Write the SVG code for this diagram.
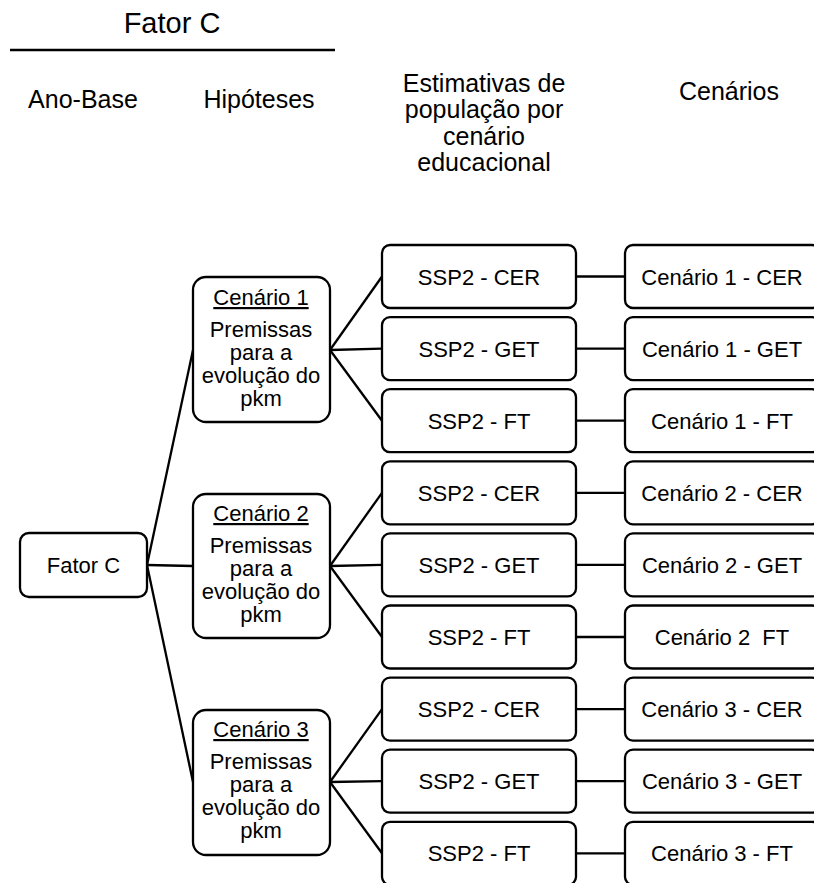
<svg xmlns="http://www.w3.org/2000/svg" width="814" height="883" viewBox="0 0 814 883">
<style>
text{font-family:"Liberation Sans",Arial,sans-serif;fill:#000;text-anchor:middle}
.hd{font-size:25px}
.t{font-size:22px;white-space:pre}
.box{fill:#fff;stroke:#000;stroke-width:2.3}
.ln{stroke:#000;stroke-width:2.3;fill:none}
.u{text-decoration:underline}
</style>
<rect width="814" height="883" fill="#fff"/>
<g id="header">
<text x="172" y="33" style="font-size:29px">Fator C</text>
<line x1="10" y1="50" x2="335" y2="50" stroke="#000" stroke-width="2.6"/>
<text class="hd" x="83" y="108">Ano-Base</text>
<text class="hd" x="259" y="108">Hipóteses</text>
<text class="hd" x="484" y="92">Estimativas de</text>
<text class="hd" x="484" y="118">população por</text>
<text class="hd" x="484" y="145">cenário</text>
<text class="hd" x="484" y="171">educacional</text>
<text class="hd" x="729" y="100">Cenários</text>
</g>
<g id="connectors" class="ln">
<line x1="147" y1="565" x2="193" y2="350"/>
<line x1="147" y1="565" x2="193" y2="566"/>
<line x1="147" y1="565" x2="193" y2="782"/>
<line x1="330" y1="350" x2="382" y2="276.5"/>
<line x1="330" y1="350" x2="382" y2="348.6"/>
<line x1="330" y1="350" x2="382" y2="420.7"/>
<line x1="330" y1="566" x2="382" y2="492.8"/>
<line x1="330" y1="566" x2="382" y2="564.9"/>
<line x1="330" y1="566" x2="382" y2="637"/>
<line x1="330" y1="782" x2="382" y2="709.1"/>
<line x1="330" y1="782" x2="382" y2="781.2"/>
<line x1="330" y1="782" x2="382" y2="853.3"/>
<line x1="576" y1="276.5" x2="625" y2="276.5"/>
<line x1="576" y1="348.6" x2="625" y2="348.6"/>
<line x1="576" y1="420.7" x2="625" y2="420.7"/>
<line x1="576" y1="492.8" x2="625" y2="492.8"/>
<line x1="576" y1="564.9" x2="625" y2="564.9"/>
<line x1="576" y1="637" x2="625" y2="637"/>
<line x1="576" y1="709.1" x2="625" y2="709.1"/>
<line x1="576" y1="781.2" x2="625" y2="781.2"/>
<line x1="576" y1="853.3" x2="625" y2="853.3"/>
</g>
<g id="fatorC"><rect class="box" x="20" y="533" width="127" height="64" rx="9"/><text class="t" x="83.5" y="573">Fator C</text></g>
<g id="cen1"><rect class="box" x="193" y="277" width="137" height="145" rx="13"/>
<text class="t u" x="261" y="305">Cenário 1</text>
<text class="t" x="261" y="337">Premissas</text><text class="t" x="261" y="360">para a</text><text class="t" x="261" y="383">evolução do</text><text class="t" x="261" y="406">pkm</text></g>
<g id="cen2"><rect class="box" x="193" y="494" width="137" height="144" rx="13"/>
<text class="t u" x="261" y="521">Cenário 2</text>
<text class="t" x="261" y="553">Premissas</text><text class="t" x="261" y="576">para a</text><text class="t" x="261" y="599">evolução do</text><text class="t" x="261" y="622">pkm</text></g>
<g id="cen3"><rect class="box" x="193" y="710" width="137" height="145" rx="13"/>
<text class="t u" x="261" y="737">Cenário 3</text>
<text class="t" x="261" y="769">Premissas</text><text class="t" x="261" y="792">para a</text><text class="t" x="261" y="815">evolução do</text><text class="t" x="261" y="838">pkm</text></g>
<g id="s1"><rect class="box" x="382" y="245" width="194" height="63" rx="8"/><text class="t" x="479" y="284.5">SSP2 - CER</text></g>
<g id="s2"><rect class="box" x="382" y="317.1" width="194" height="63" rx="8"/><text class="t" x="479" y="356.6">SSP2 - GET</text></g>
<g id="s3"><rect class="box" x="382" y="389.2" width="194" height="63" rx="8"/><text class="t" x="479" y="428.7">SSP2 - FT</text></g>
<g id="s4"><rect class="box" x="382" y="461.3" width="194" height="63" rx="8"/><text class="t" x="479" y="500.8">SSP2 - CER</text></g>
<g id="s5"><rect class="box" x="382" y="533.4" width="194" height="63" rx="8"/><text class="t" x="479" y="572.9">SSP2 - GET</text></g>
<g id="s6"><rect class="box" x="382" y="605.5" width="194" height="63" rx="8"/><text class="t" x="479" y="645">SSP2 - FT</text></g>
<g id="s7"><rect class="box" x="382" y="677.6" width="194" height="63" rx="8"/><text class="t" x="479" y="717.1">SSP2 - CER</text></g>
<g id="s8"><rect class="box" x="382" y="749.7" width="194" height="63" rx="8"/><text class="t" x="479" y="789.2">SSP2 - GET</text></g>
<g id="s9"><rect class="box" x="382" y="821.8" width="194" height="63" rx="8"/><text class="t" x="479" y="861.3">SSP2 - FT</text></g>
<g id="r1"><rect class="box" x="625" y="245" width="195" height="63" rx="8"/><text class="t" x="722" y="284.5">Cenário 1 - CER</text></g>
<g id="r2"><rect class="box" x="625" y="317.1" width="195" height="63" rx="8"/><text class="t" x="722" y="356.6">Cenário 1 - GET</text></g>
<g id="r3"><rect class="box" x="625" y="389.2" width="195" height="63" rx="8"/><text class="t" x="722" y="428.7">Cenário 1 - FT</text></g>
<g id="r4"><rect class="box" x="625" y="461.3" width="195" height="63" rx="8"/><text class="t" x="722" y="500.8">Cenário 2 - CER</text></g>
<g id="r5"><rect class="box" x="625" y="533.4" width="195" height="63" rx="8"/><text class="t" x="722" y="572.9">Cenário 2 - GET</text></g>
<g id="r6"><rect class="box" x="625" y="605.5" width="195" height="63" rx="8"/><text class="t" x="722" y="645">Cenário 2  FT</text></g>
<g id="r7"><rect class="box" x="625" y="677.6" width="195" height="63" rx="8"/><text class="t" x="722" y="717.1">Cenário 3 - CER</text></g>
<g id="r8"><rect class="box" x="625" y="749.7" width="195" height="63" rx="8"/><text class="t" x="722" y="789.2">Cenário 3 - GET</text></g>
<g id="r9"><rect class="box" x="625" y="821.8" width="195" height="63" rx="8"/><text class="t" x="722" y="861.3">Cenário 3 - FT</text></g>
</svg>
